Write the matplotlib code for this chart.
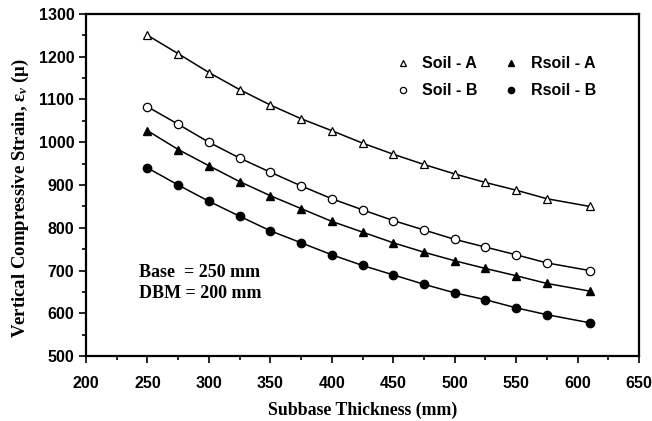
import numpy as np
import matplotlib
matplotlib.use("Agg")
import matplotlib.pyplot as plt
from matplotlib.ticker import MultipleLocator

# subbase thickness (mm)
thickness = [250, 275, 300, 325, 350, 375, 400, 425, 450, 475, 500, 525, 550, 575, 610]

# vertical compressive strain (micro strain)
soil_a = [1250, 1207, 1163, 1123, 1087, 1055, 1027, 998, 972, 948, 926, 906, 888, 868, 850]
soil_b = [1083, 1042, 1000, 963, 930, 898, 868, 842, 817, 795, 773, 755, 737, 718, 700]
rsoil_a = [1027, 983, 945, 908, 875, 845, 815, 790, 765, 743, 723, 705, 688, 670, 652]
rsoil_b = [940, 900, 862, 827, 793, 765, 737, 712, 690, 668, 648, 632, 613, 597, 578]

plt.rcParams['mathtext.fontset'] = 'custom'
plt.rcParams['mathtext.rm'] = 'Liberation Serif:bold'
plt.rcParams['mathtext.it'] = 'Liberation Serif:italic:bold'

fig = plt.figure(figsize=(6.52, 4.21), dpi=100)
ax = fig.add_axes([0.132, 0.154, 0.848, 0.813])

ax.plot(thickness, soil_a, color='black', lw=1.1, marker='^', ms=6,
        mfc='white', mec='black', mew=0.9, label='Soil - A')
ax.plot(thickness, soil_b, color='black', lw=1.1, marker='o', ms=6,
        mfc='white', mec='black', mew=0.9, label='Soil - B')
ax.plot(thickness, rsoil_a, color='black', lw=1.1, marker='^', ms=6,
        mfc='black', mec='black', label='Rsoil - A')
ax.plot(thickness, rsoil_b, color='black', lw=1.1, marker='o', ms=6,
        mfc='black', mec='black', label='Rsoil - B')

ax.set_xlim(200, 650)
ax.set_ylim(500, 1300)
ax.xaxis.set_major_locator(MultipleLocator(50))
ax.xaxis.set_minor_locator(MultipleLocator(25))
ax.yaxis.set_major_locator(MultipleLocator(100))
ax.yaxis.set_minor_locator(MultipleLocator(50))
ax.tick_params(which='both', direction='out', width=1.2, labelsize=11.5)
ax.tick_params(which='major', length=5)
ax.tick_params(which='minor', length=3)
ax.tick_params(axis='x', which='major', pad=9)
for lab in ax.get_xticklabels() + ax.get_yticklabels():
    lab.set_fontfamily('Liberation Sans')
    lab.set_fontweight('bold')
for s in ax.spines.values():
    s.set_linewidth(1.6)

ax.set_xlabel('Subbase Thickness (mm)', family='Liberation Serif',
              fontweight='bold', fontsize=12.8, labelpad=8)
ax.set_ylabel(r'Vertical Compressive Strain, $\mathrm{ε}_{v}$ (μ)',
              family='Liberation Serif', fontweight='bold', fontsize=13.5)
ax.yaxis.set_label_coords(-0.1, 0.462)

ax.text(243, 671, 'Base  = 250 mm\nDBM = 200 mm', family='Liberation Serif',
        fontweight='bold', fontsize=13, linespacing=1.3, va='center')

leg = ax.legend(ncol=2, frameon=False, loc='upper right',
                bbox_to_anchor=(0.948, 0.918), handlelength=1.0,
                handletextpad=0.7, columnspacing=1.6, labelspacing=0.75,
                prop={'family': 'Liberation Sans', 'weight': 'bold', 'size': 11.5})
for h in leg.legend_handles:
    h.set_linestyle('None')
    h.set_markersize(4.5)

fig.savefig('out.png', dpi=100)
